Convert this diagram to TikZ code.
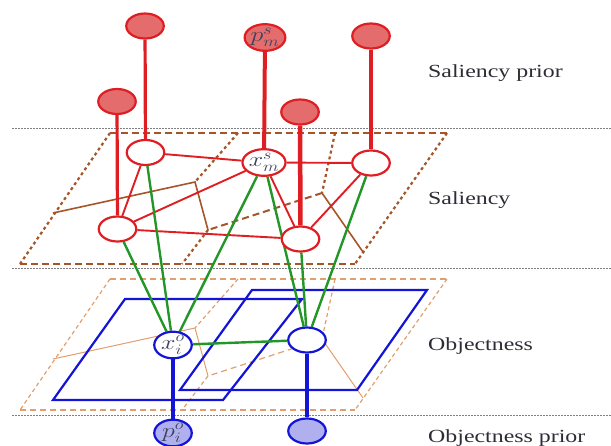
\documentclass[tikz,border=0pt]{standalone}
\usepackage{fontspec}
\usepackage{graphicx}
\setmainfont[FakeStretch=1.29]{Liberation Serif}
\usetikzlibrary{shapes.geometric}
\pgfdeclarelayer{background}
\pgfsetlayers{background,main}

\definecolor{salred}{RGB}{222,30,35}
\definecolor{salfill}{RGB}{228,108,108}
\definecolor{objblue}{RGB}{20,20,215}
\definecolor{objfill}{RGB}{176,176,238}
\definecolor{edgegreen}{RGB}{35,150,40}
\definecolor{planebrown}{RGB}{165,85,40}
\definecolor{planetan}{RGB}{225,158,110}
\definecolor{labelgray}{RGB}{45,45,55}
\definecolor{mathgray}{RGB}{60,66,92}

% outline of one layer plane: two overlapping sheets folded along a crease
\newcommand\layerplane[3]{%
  \draw[#1] (110,133) -- (447,133);
  \draw[#1] (20,264) -- (355,264);
  \draw[#2] (110,133) -- (20,264);
  \draw[#2] (447,133) -- (355,264);
  \draw[#2] (238,133) -- (195,182);
  \draw[#2] (208,230) -- (182,264);
  \draw[#2] (335,133) -- (322,193);
  \draw[#1] (322,193) -- (208,230);
  \draw[#3] (53,213) -- (195,182) -- (208,230);
  \draw[#3] (322,193) -- (363,252);
}

\begin{document}
\begin{tikzpicture}[x=1pt,y=-1pt,
  nodebase/.style={ellipse, line width=2.2pt, minimum width=37.5pt, minimum height=25pt,
    inner sep=0pt, text=mathgray, font=\fontsize{20}{20}\selectfont},
  snode/.style={nodebase, draw=salred, fill=white},
  spnode/.style={snode, fill=salfill},
  onode/.style={nodebase, draw=objblue, fill=white},
  opnode/.style={onode, fill=objfill},
  prior/.style={salred, line width=3.4pt},
  oprior/.style={objblue, line width=4.5pt},
  sedge/.style={salred, line width=1.9pt},
  gedge/.style={edgegreen, line width=2.4pt},
  sep/.style={gray, line width=0.8pt, dash pattern=on 1.5pt off 1.5pt},
  blueplane/.style={objblue, line width=2.2pt, line join=miter},
  layerlabel/.style={anchor=base west, text=labelgray, font=\fontsize{18.5}{18.5}\selectfont, inner sep=0pt}
]
\useasboundingbox (0,0) rectangle (611,445);

% saliency prior nodes
\node[spnode] (P1) at (145,26) {};
\node[spnode] (P2) at (265,37.5) {\scalebox{1.25}[1]{$p^{s}_{m}$}};
\node[spnode] (P3) at (371,36) {};
\node[spnode] (P4) at (117,101.5) {};
\node[spnode] (P5) at (300,112) {};

% saliency nodes
\node[snode] (S1) at (145.5,152.5) {};
\node[snode] (S2) at (264,162.5) {\scalebox{1.25}[1]{$x^{s}_{m}$}};
\node[snode] (S3) at (371,163) {};
\node[snode] (S4) at (117.5,229) {};
\node[snode] (S5) at (300.5,239) {};

% objectness nodes
\node[onode] (O1) at (173,345) {\scalebox{1.25}[1]{$x^{o}_{i}$}};
\node[onode] (O2) at (307,340) {};

% objectness prior nodes
\node[opnode] (Q1) at (173,433) {\scalebox{1.25}[1]{$p^{o}_{i}$}};
\node[opnode] (Q2) at (307,431) {};

% layer names
\node[layerlabel] (L1) at (428,77) {Saliency prior};
\node[layerlabel] (L2) at (428,204) {Saliency};
\node[layerlabel] (L3) at (428,350) {Objectness};
\node[layerlabel] (L4) at (428,442) {Objectness prior};

\begin{pgfonlayer}{background}
  % layer separators
  \draw[sep] (12,128) -- (611,128);
  \draw[sep] (12,268) -- (611,268);
  \draw[sep] (12,415) -- (611,415);

  % saliency plane
  \layerplane{planebrown, line width=2pt, dash pattern=on 7pt off 4pt}
             {planebrown, line width=2.2pt, dash pattern=on 3pt off 3pt}
             {planebrown, line width=1.6pt}
  % objectness plane
  \begin{scope}[shift={(0,146)}]
    \layerplane{planetan, line width=1.2pt, dash pattern=on 6pt off 4pt}
               {planetan, line width=1.2pt, dash pattern=on 4pt off 3pt}
               {planetan, line width=1pt}
  \end{scope}

  % object proposal windows
  \draw[blueplane] (125,299) -- (302,299) -- (223,400) -- (53,400) -- cycle;
  \draw[blueplane] (252,290) -- (427,290) -- (357,390) -- (180,390) -- cycle;

  % saliency graph edges
  \draw[sedge] (S1) -- (S2);
  \draw[sedge] (S2) -- (S3);
  \draw[sedge] (S1) -- (S4);
  \draw[sedge] (S2) -- (S4);
  \draw[sedge] (S4) -- (S5);
  \draw[sedge] (S2) -- (S5);
  \draw[sedge] (S3) -- (S5);

  % prior links
  \draw[prior, line width=3.2pt] (P1) -- (S1);
  \draw[prior, line width=4pt] (P2) -- (S2);
  \draw[prior, line width=4pt] (P3) -- (S3);
  \draw[prior, line width=3.2pt] (P4) -- (S4);
  \draw[prior, line width=4.5pt] (P5) -- (S5);
  \draw[oprior] (O1) -- (Q1);
  \draw[oprior] (O2) -- (Q2);

  % saliency-objectness links
  \draw[gedge] (S1) -- (O1);
  \draw[gedge] (S4) -- (O1);
  \draw[gedge] (S2) -- (O1);
  \draw[gedge] (S2) -- (O2);
  \draw[gedge] (S5) -- (O2);
  \draw[gedge] (S3) -- (O2);
  \draw[gedge] (O1) -- (O2);
\end{pgfonlayer}
\end{tikzpicture}
\end{document}
